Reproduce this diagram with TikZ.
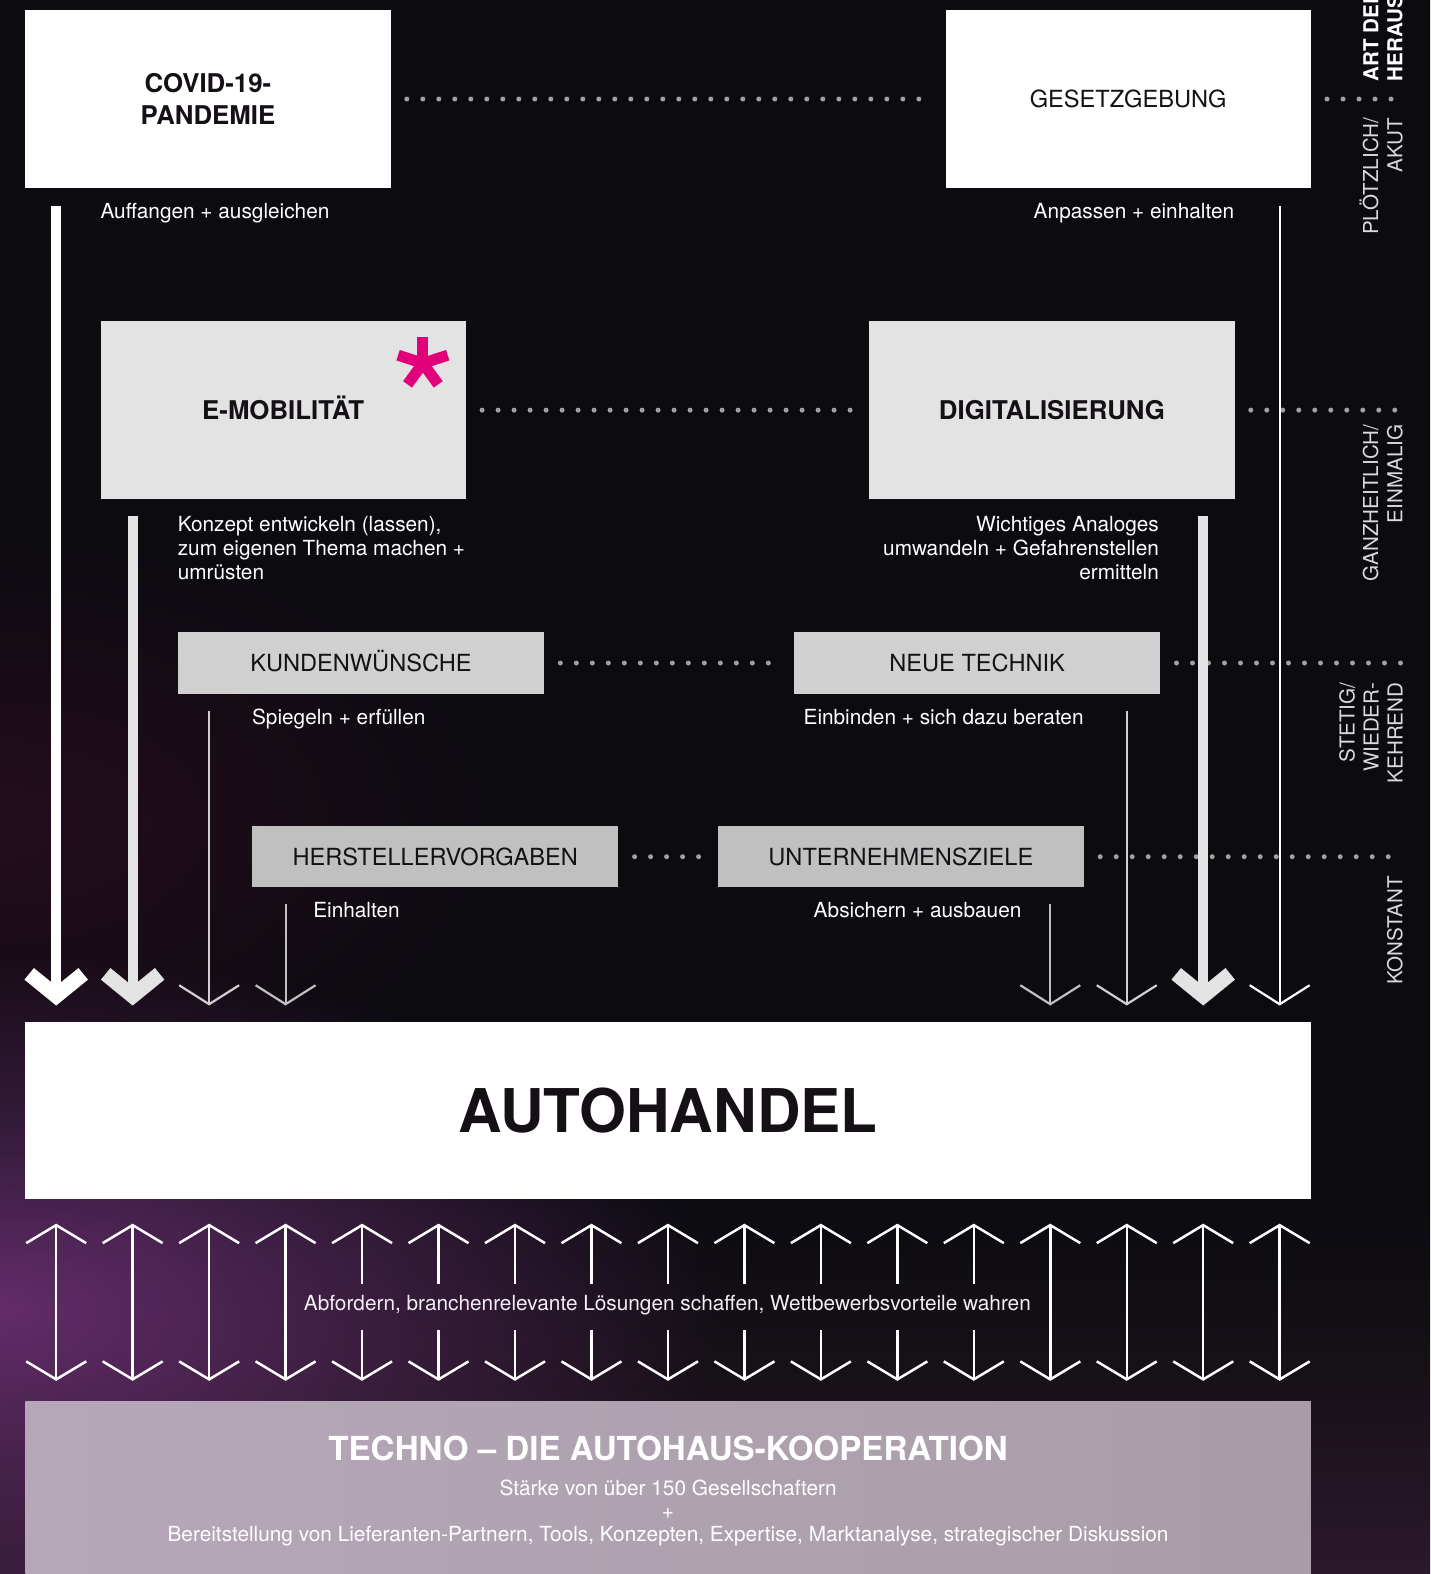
\documentclass[tikz,border=0pt]{standalone}
\usepackage{fontspec}
\setmainfont{TeX Gyre Heros}
\usetikzlibrary{arrows.meta, positioning, calc, fadings}
\definecolor{bgdark}{RGB}{11, 11, 16}
\definecolor{bgmid}{RGB}{24, 17, 24}
\definecolor{bgbottom}{RGB}{46, 26, 48}
\definecolor{plumglow}{RGB}{108, 48, 116}
\definecolor{maroonglow}{RGB}{40, 14, 30}
\definecolor{boxlight}{RGB}{227, 227, 227}
\definecolor{boxmid}{RGB}{208, 208, 208}
\definecolor{boxdark}{RGB}{192, 192, 192}
\definecolor{dotgrey}{RGB}{160, 160, 160}
\definecolor{labelgrey}{RGB}{218, 218, 218}
\definecolor{inkdark}{RGB}{20, 16, 22}
\definecolor{technoleft}{RGB}{181, 167, 184}
\definecolor{technoright}{RGB}{168, 157, 167}
\definecolor{starpink}{RGB}{226, 0, 122}

\pgfdeclareverticalshading{bgfade}{100bp}{color(0bp)=(bgbottom); color(24bp)=(bgbottom); color(31bp)=(bgmid); color(37bp)=(bgdark); color(100bp)=(bgdark)}
\tikzfading[name=glowfade, inner color=transparent!10, outer color=transparent!100]

\tikzset{
  bigbox/.style={rectangle, anchor=north west, inner sep=0pt, minimum width=365.3pt, minimum height=177.6pt, text=inkdark, align=center, font=\fontsize{23.6}{28}\selectfont},
  boldbox/.style={bigbox, font=\fontsize{25.8}{32.1}\selectfont\bfseries},
  smallbox/.style={rectangle, anchor=north west, inner sep=0pt, minimum width=366.3pt, minimum height=61.2pt, text=inkdark, text height=17pt, text depth=0pt, font=\fontsize{23.6}{28}\selectfont},
  note/.style={text=white, inner sep=0pt, font=\fontsize{20.8}{24.1}\selectfont},
  sidelabel/.style={text=labelgrey, inner sep=0pt, rotate=90, anchor=south east, align=right, font=\fontsize{20.6}{24.1}\selectfont},
  dots/.style={dotgrey, line width=5pt, line cap=round, dash pattern=on 0pt off 16pt},
  fatarrow/.style={line width=10pt, -{Straight Barb[length=22pt, width=54pt, line width=15pt]}},
  thinarrow/.style={line width=2.2pt, -{Straight Barb[length=19pt, width=60pt]}},
  twoway/.style={white, line width=2.5pt, {Straight Barb[length=18pt, width=60pt]}-{Straight Barb[length=18pt, width=60pt]}},
  oneway/.style={white, line width=2.5pt, -{Straight Barb[length=18pt, width=60pt]}}
}

\begin{document}
\begin{tikzpicture}[x=1.0035pt, y=-1.0035pt]
  \useasboundingbox (0,0) rectangle (1425,1568.5);
  % background
  \shade[shading=bgfade] (0,0) rectangle (1425,1568.5);
  \begin{scope}
    \clip (0,0) rectangle (1425,1568.5);
    \fill[maroonglow, path fading=glowfade] (-520,520) rectangle (520,1120);
    \fill[plumglow, path fading=glowfade] (-720,950) rectangle (720,1660);
  \end{scope}

  % boxes
  \node[boldbox, fill=white] (covid) at (25,10) {COVID-19-\\PANDEMIE};
  \node[bigbox, fill=white, text height=17pt, text depth=0pt] (gesetz) at (942,10) {GESETZGEBUNG};
  \node[boldbox, fill=boxlight, text height=18.6pt, text depth=0pt] (emob) at (100,320) {E-MOBILITÄT};
  \node[boldbox, fill=boxlight, text height=18.6pt, text depth=0pt] (digi) at (866,320) {DIGITALISIERUNG};
  \node[smallbox, fill=boxmid] (kunden) at (177,630) {KUNDENWÜNSCHE};
  \node[smallbox, fill=boxmid] (technik) at (791,630) {NEUE TECHNIK};
  \node[smallbox, fill=boxdark] (hersteller) at (251,823) {HERSTELLERVORGABEN};
  \node[smallbox, fill=boxdark] (ziele) at (715,823) {UNTERNEHMENSZIELE};
  \node[rectangle, anchor=north west, inner sep=0pt, minimum width=1285.5pt, minimum height=177.6pt, fill=white, text=inkdark,
    text height=43.4pt, text depth=0pt, font=\fontsize{60.3}{61}\selectfont\bfseries] (autohandel) at (25,1018) {AUTOHANDEL};
  \node[rectangle, anchor=north west, inner sep=0pt, minimum width=1285.5pt, minimum height=175pt,
    left color=technoleft, right color=technoright] (techno) at (25,1396) {};

  % asterisk
  \foreach \a in {-90,-18,54,126,198}
    \draw[starpink, line width=11pt] ($(emob.north east)+(-43,42)$) -- ++(\a:26);

  % notes under the boxes
  \node[note, anchor=base west] (auffangen) at (100,217.5) {Auffangen + ausgleichen};
  \node[note, anchor=base east] (anpassen) at (1230,217.5) {Anpassen + einhalten};
  \node[note, anchor=north west, align=left] (konzept) at (177,514) {Konzept entwickeln (lassen),\\zum eigenen Thema machen +\\umrüsten};
  \node[note, anchor=north east, align=right] (analoges) at (1155,514) {Wichtiges Analoges\\umwandeln + Gefahrenstellen\\ermitteln};
  \node[note, anchor=base west] (spiegeln) at (251,721.5) {Spiegeln + erfüllen};
  \node[note, anchor=base east] (einbinden) at (1080,721.5) {Einbinden + sich dazu beraten};
  \node[note, anchor=base west] (einhalten) at (312,914.5) {Einhalten};
  \node[note, anchor=base east] (absichern) at (1018,914.5) {Absichern + ausbauen};

  % side labels
  \node[sidelabel, anchor=south west, align=left, text=white, font=\fontsize{20.6}{24.1}\selectfont\bfseries] (art) at (1398,81) {ART DER\\HERAUSFORDERUNG};
  \node[sidelabel] (akut) at (1398,117) {PLÖTZLICH/\\AKUT};
  \node[sidelabel] (einmalig) at (1398,423) {GANZHEITLICH/\\EINMALIG};
  \node[sidelabel] (stetig) at (1398,680) {STETIG/\\WIEDER-\\KEHREND};
  \node[sidelabel] (konstant) at (1398,873) {KONSTANT};

  % dotted links
  \coordinate (rim) at (1396,0);
  \draw[dots] ([xshift=16pt]covid.east) -- ([xshift=-13pt]gesetz.west);
  \draw[dots] ([xshift=16pt]gesetz.east) -- (gesetz.east -| rim);
  \draw[dots] ([xshift=16pt]emob.east) -- ([xshift=-13pt]digi.west);
  \draw[dots] ([xshift=16pt]digi.east) -- (digi.east -| rim);
  \draw[dots] ([xshift=16pt]kunden.east) -- ([xshift=-14pt]technik.west);
  \draw[dots] ([xshift=16pt]technik.east) -- (technik.east -| rim);
  \draw[dots] ([xshift=16pt]hersteller.east) -- ([xshift=-14pt]ziele.west);
  \draw[dots] ([xshift=16pt]ziele.east) -- (ziele.east -| rim);

  % arrows into the trade
  \foreach \k in {0,...,16}
    \coordinate (c\k) at (56+76.2*\k, 0);
  \draw[fatarrow, white] ($(covid.south -| c0)+(0,18)$) -- ($(autohandel.north -| c0)+(0,-16)$);
  \draw[fatarrow, boxlight] ($(emob.south -| c1)+(0,17)$) -- ($(autohandel.north -| c1)+(0,-16)$);
  \draw[thinarrow, boxmid] ($(kunden.south -| c2)+(0,17)$) -- ($(autohandel.north -| c2)+(0,-16)$);
  \draw[thinarrow, boxdark] ($(hersteller.south -| c3)+(0,16)$) -- ($(autohandel.north -| c3)+(0,-16)$);
  \draw[thinarrow, boxdark] ($(ziele.south -| c13)+(0,16)$) -- ($(autohandel.north -| c13)+(0,-16)$);
  \draw[thinarrow, boxmid] ($(technik.south -| c14)+(0,17)$) -- ($(autohandel.north -| c14)+(0,-16)$);
  \draw[fatarrow, boxlight] ($(digi.south -| c15)+(0,17)$) -- ($(autohandel.north -| c15)+(0,-16)$);
  \draw[thinarrow, white] ($(gesetz.south -| c16)+(0,18)$) -- ($(autohandel.north -| c16)+(0,-16)$);

  % exchange with the cooperation
  \node[note, anchor=base, text=white!92!plumglow] (abfordern) at (665,1305.5) {Abfordern, branchenrelevante Lösungen schaffen, Wettbewerbsvorteile wahren};
  \foreach \k in {0,1,2,3,13,14,15,16}
    \draw[twoway] ($(autohandel.south -| c\k)+(0,24)$) -- ($(techno.north -| c\k)+(0,-20)$);
  \foreach \k in {4,...,12} {
    \draw[oneway] ($(abfordern.north -| c\k)+(0,-11)$) -- ($(autohandel.south -| c\k)+(0,24)$);
    \draw[oneway] ($(abfordern.south -| c\k)+(0,15)$) -- ($(techno.north -| c\k)+(0,-20)$);
  }

  % cooperation
  \node[text=white, inner sep=0pt, anchor=base, font=\fontsize{33.1}{36}\selectfont\bfseries] (technotitle) at ($(techno.north)+(0,59.5)$) {TECHNO – DIE AUTOHAUS-KOOPERATION};
  \node[note, anchor=base] (staerke) at ($(techno.north)+(0,94.5)$) {Stärke von über 150 Gesellschaftern};
  \node[note, anchor=base] (plus) at ($(techno.north)+(0,117.5)$) {+};
  \node[note, anchor=base] (bereit) at ($(techno.north)+(0,140.5)$) {Bereitstellung von Lieferanten-Partnern, Tools, Konzepten, Expertise, Marktanalyse, strategischer Diskussion};
\end{tikzpicture}
\end{document}
